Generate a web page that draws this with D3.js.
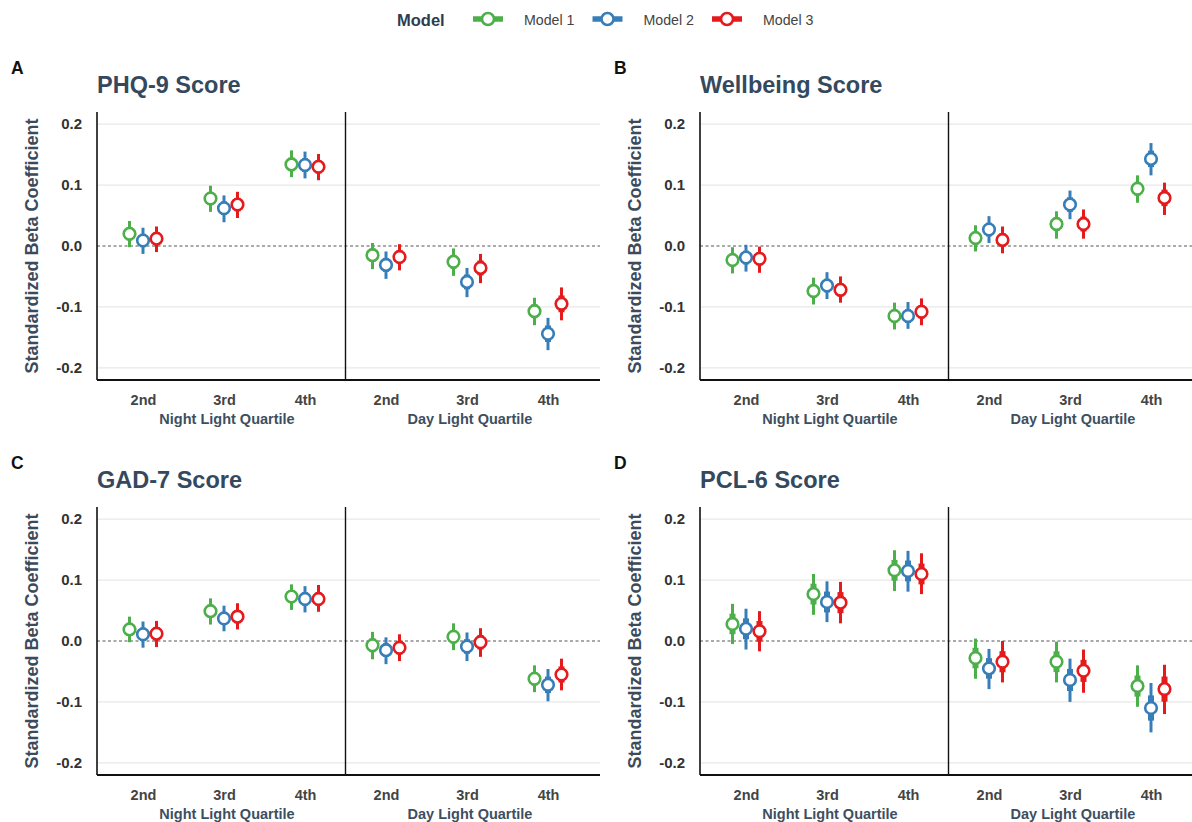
<!DOCTYPE html>
<html>
<head>
<meta charset="utf-8">
<script src="https://cdn.jsdelivr.net/npm/d3@7"></script>
<style>
  body { margin: 0; background: #fff; }
  svg { display: block; font-family: "Liberation Sans", Arial, sans-serif; }
</style>
</head>
<body>
<svg id="chart" width="1192" height="822"></svg>
<script>
// ---------------- DATA ----------------
const categories = ["2nd", "3rd", "4th", "2nd", "3rd", "4th"];
const groupLabels = ["Night Light Quartile", "Day Light Quartile"];
const models = ["Model 1", "Model 2", "Model 3"];
const modelColors = ["#4daf4a", "#377eb8", "#e41a1c"];
const panelLetters = ["A", "B", "C", "D"];
const panelTitles = ["PHQ-9 Score", "Wellbeing Score", "GAD-7 Score", "PCL-6 Score"];
const yTicks = [-0.2, -0.1, 0.0, 0.1, 0.2];
const yTickLabels = ["-0.2", "-0.1", "0.0", "0.1", "0.2"];

// rows: Model 1, Model 2, Model 3 ; columns: categories
const phqEst = [[0.020, 0.078, 0.134, -0.015, -0.026, -0.107],
                [0.009, 0.062, 0.133, -0.031, -0.059, -0.144],
                [0.012, 0.068, 0.130, -0.018, -0.036, -0.095]];
const phqLo  = [[-0.002, 0.056, 0.113, -0.038, -0.049, -0.130],
                [-0.013, 0.039, 0.111, -0.054, -0.084, -0.171],
                [-0.010, 0.046, 0.108, -0.040, -0.061, -0.122]];
const phqHi  = [[0.041, 0.099, 0.157, 0.005, -0.004, -0.085],
                [0.030, 0.083, 0.155, -0.009, -0.036, -0.118],
                [0.032, 0.089, 0.151, 0.003, -0.013, -0.068]];

const wbEst = [[-0.023, -0.074, -0.115, 0.013, 0.036, 0.094],
               [-0.019, -0.065, -0.115, 0.027, 0.068, 0.143],
               [-0.021, -0.072, -0.108, 0.010, 0.036, 0.079]];
const wbLo  = [[-0.045, -0.096, -0.137, -0.009, 0.012, 0.071],
               [-0.042, -0.087, -0.136, 0.005, 0.044, 0.116],
               [-0.044, -0.093, -0.130, -0.012, 0.012, 0.051]];
const wbHi  = [[-0.002, -0.052, -0.093, 0.034, 0.057, 0.116],
               [0.002, -0.043, -0.092, 0.049, 0.091, 0.169],
               [-0.001, -0.050, -0.086, 0.032, 0.060, 0.104]];

const gadEst = [[0.019, 0.049, 0.073, -0.007, 0.007, -0.062],
                [0.011, 0.037, 0.069, -0.015, -0.009, -0.072],
                [0.012, 0.040, 0.069, -0.011, -0.002, -0.055]];
const gadLo  = [[-0.002, 0.027, 0.051, -0.030, -0.015, -0.084],
                [-0.011, 0.016, 0.047, -0.038, -0.033, -0.099],
                [-0.010, 0.019, 0.048, -0.033, -0.026, -0.081]];
const gadHi  = [[0.040, 0.070, 0.093, 0.015, 0.029, -0.040],
                [0.032, 0.058, 0.090, 0.006, 0.014, -0.046],
                [0.033, 0.062, 0.092, 0.011, 0.021, -0.029]];

const pclEst = [[0.028, 0.077, 0.116, -0.028, -0.034, -0.074],
                [0.020, 0.064, 0.115, -0.045, -0.064, -0.110],
                [0.016, 0.063, 0.110, -0.034, -0.049, -0.079]];
const pclLo  = [[-0.005, 0.043, 0.082, -0.062, -0.068, -0.108],
                [-0.014, 0.031, 0.081, -0.079, -0.100, -0.150],
                [-0.017, 0.029, 0.077, -0.068, -0.085, -0.120]];
const pclHi  = [[0.061, 0.110, 0.149, 0.004, -0.001, -0.040],
                [0.053, 0.098, 0.148, -0.013, -0.029, -0.069],
                [0.049, 0.097, 0.144, 0.000, -0.014, -0.039]];

const panelData = [
  {est: phqEst, lo: phqLo, hi: phqHi},
  {est: wbEst,  lo: wbLo,  hi: wbHi},
  {est: gadEst, lo: gadLo, hi: gadHi},
  {est: pclEst, lo: pclLo, hi: pclHi}
];

// ---------------- LAYOUT ----------------
const svg = d3.select("#chart");
const panelOffsets = [[0, 0], [603, 0], [0, 395], [603, 395]];
const titleColor = "#34495e";
const dodge = [-13.5, 0, 13.5];
const FF = "Liberation Sans, Arial, sans-serif";

// legend
const leg = svg.append("g");
leg.append("text").attr("x", 397).attr("y", 26)
  .attr("font-size", 16.5).attr("font-weight", "bold").attr("fill", "#2c3e50").text("Model");
models.forEach((m, i) => {
  const cx = 488 + i * 119.5;
  leg.append("line").attr("x1", cx - 15).attr("x2", cx + 15).attr("y1", 19).attr("y2", 19)
    .attr("stroke", modelColors[i]).attr("stroke-width", 5.5);
  leg.append("circle").attr("cx", cx).attr("cy", 19).attr("r", 6)
    .attr("fill", "#fff").attr("stroke", modelColors[i]).attr("stroke-width", 2.6);
  leg.append("text").attr("x", cx + 36).attr("y", 24.5)
    .attr("font-size", 14.2).attr("fill", "#444").text(m);
});

panelData.forEach((pd, p) => {
  const [ox, oy] = panelOffsets[p];
  const g = svg.append("g").attr("transform", `translate(${ox},${oy})`);
  const left = 97, right = 600, top = 112, bottom = 380;

  const y = d3.scaleLinear().domain([-0.22, 0.22]).range([bottom, top]);
  const x = d3.scalePoint().domain(d3.range(categories.length)).range([143, 548]);

  // letter and title
  g.append("text").attr("x", 11).attr("y", 74).attr("font-size", 17.5)
    .attr("font-weight", "bold").attr("fill", "#111").text(panelLetters[p]);
  g.append("text").attr("x", 97).attr("y", 93).attr("font-size", 23.5)
    .attr("font-weight", "bold").attr("fill", titleColor).text(panelTitles[p]);

  // gridlines
  g.append("g").selectAll("line").data(yTicks.filter(t => t !== 0)).join("line")
    .attr("x1", left).attr("x2", right)
    .attr("y1", d => y(d)).attr("y2", d => y(d))
    .attr("stroke", "#e8e8e8").attr("stroke-width", 1.3);

  // zero dashed
  g.append("line").attr("x1", left).attr("x2", right).attr("y1", y(0)).attr("y2", y(0))
    .attr("stroke", "#555").attr("stroke-width", 1).attr("stroke-dasharray", "3,2.5");

  // y axis
  const yAxis = d3.axisLeft(y).tickValues(yTicks).tickFormat((d, i) => yTickLabels[i]).tickSize(0).tickPadding(15);
  const ya = g.append("g").attr("transform", `translate(${left},0)`).call(yAxis);
  ya.select(".domain").remove();
  ya.selectAll("text").attr("font-size", 15).attr("font-weight", "bold").attr("fill", "#333")
    .attr("font-family", FF);

  // x axis
  const xAxis = d3.axisBottom(x).tickFormat(i => categories[i]).tickSize(0).tickPadding(15);
  const xa = g.append("g").attr("transform", `translate(0,${bottom})`).call(xAxis);
  xa.select(".domain").remove();
  xa.selectAll("text").attr("font-size", 14.5).attr("font-weight", "bold").attr("fill", "#444")
    .attr("font-family", FF);

  // group labels
  groupLabels.forEach((gl, k) => {
    const cx = (x(k * 3) + x(k * 3 + 2)) / 2 + 3;
    g.append("text").attr("x", cx).attr("y", 424).attr("text-anchor", "middle")
      .attr("font-size", 14.5).attr("font-weight", "bold").attr("fill", "#3d4f5f").text(gl);
  });

  // axis lines
  g.append("line").attr("x1", left).attr("x2", left).attr("y1", top).attr("y2", bottom)
    .attr("stroke", "#111").attr("stroke-width", 1.6);
  g.append("line").attr("x1", left).attr("x2", right).attr("y1", bottom).attr("y2", bottom)
    .attr("stroke", "#111").attr("stroke-width", 2.2);
  const sepX = (x(2) + x(3)) / 2;
  g.append("line").attr("x1", sepX).attr("x2", sepX).attr("y1", top).attr("y2", bottom)
    .attr("stroke", "#111").attr("stroke-width", 1.4);

  // y title
  g.append("text").attr("transform", `translate(38,${(top + bottom) / 2}) rotate(-90)`)
    .attr("text-anchor", "middle").attr("font-size", 18).attr("font-weight", "bold")
    .attr("fill", "#3c4b5c").text("Standardized Beta Coefficient");

  // points
  models.forEach((m, mi) => {
    const col = modelColors[mi];
    const pts = categories.map((c, ci) => {
      const est = pd.est[mi][ci], lo = pd.lo[mi][ci], hi = pd.hi[mi][ci];
      const se = (hi - lo) / (2 * 1.96);
      return {cx: x(ci) + dodge[mi], est, lo, hi, ilo: est - se, ihi: est + se};
    });
    const mg = g.append("g");
    mg.selectAll("line.outer").data(pts).join("line").attr("class", "outer")
      .attr("x1", d => d.cx).attr("x2", d => d.cx)
      .attr("y1", d => y(d.lo)).attr("y2", d => y(d.hi))
      .attr("stroke", col).attr("stroke-width", 3);
    mg.selectAll("line.inner").data(pts).join("line").attr("class", "inner")
      .attr("x1", d => d.cx).attr("x2", d => d.cx)
      .attr("y1", d => y(d.ilo)).attr("y2", d => y(d.ihi))
      .attr("stroke", col).attr("stroke-width", 6);
    mg.selectAll("circle").data(pts).join("circle")
      .attr("cx", d => d.cx).attr("cy", d => y(d.est)).attr("r", 5.8)
      .attr("fill", "#fff").attr("stroke", col).attr("stroke-width", 2.6);
  });
});
</script>
</body>
</html>
